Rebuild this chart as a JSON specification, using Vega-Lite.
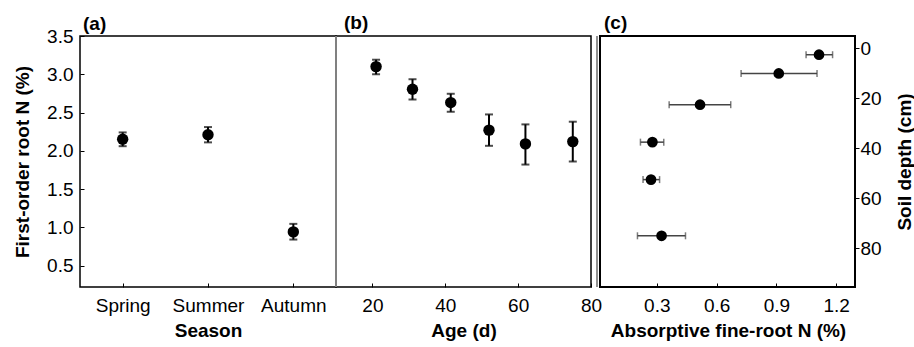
{
  "$schema": "https://vega.github.io/schema/vega-lite/v6.json",
  "padding": {"left": 12, "top": 12, "right": 5, "bottom": 5},
  "background": "white",
  "config": {
    "view": {"stroke": "black", "strokeWidth": 1.5},
    "font": "Liberation Sans",
    "axis": {"labelFont": "Liberation Sans", "labelFontSize": 19, "labelColor": "black", "titleFont": "Liberation Sans", "titleFontSize": 19, "titleFontWeight": "bold", "titleColor": "black", "grid": false, "domain": false, "tickColor": "black", "tickWidth": 1, "labelFlush": false, "labelOverlap": false},
    "title": {"font": "Liberation Sans", "fontSize": 19, "fontWeight": "bold", "anchor": "start", "color": "black", "frame": "group"}
  },
  "spacing": 0,
  "bounds": "flush",
  "hconcat": [
    {
      "width": 256, "height": 251,
      "title": {"text": "(a)", "dx": 3, "offset": -7},
      "data": {"values": [
        {"season": "Spring", "n": 2.15, "lo": 2.06, "hi": 2.24},
        {"season": "Summer", "n": 2.21, "lo": 2.11, "hi": 2.31},
        {"season": "Autumn", "n": 0.94, "lo": 0.84, "hi": 1.045}
      ]},
      "encoding": {
        "x": {"field": "season", "type": "ordinal", "sort": ["Spring", "Summer", "Autumn"], "scale": {"type": "point", "padding": 0.5},
              "axis": {"title": "Season", "labelAngle": 0, "tickSize": -4, "labelPadding": 13, "titlePadding": 6}}
      },
      "layer": [
        {"mark": {"type": "errorbar", "ticks": {"size": 8, "thickness": 2, "color": "black"}, "thickness": 2, "color": "black"},
         "encoding": {
           "y": {"field": "lo", "type": "quantitative", "scale": {"domain": [0.22, 3.5], "nice": false, "zero": false},
                 "axis": {"title": "First-order root N (%)", "values": [0.5, 1, 1.5, 2, 2.5, 3, 3.5], "format": ".1f", "tickSize": -4, "labelPadding": 11, "titlePadding": 14}},
           "y2": {"field": "hi"}
         }},
        {"mark": {"type": "point", "filled": true, "size": 130, "color": "black", "opacity": 1},
         "encoding": {
           "y": {"field": "n", "type": "quantitative", "scale": {"domain": [0.22, 3.5], "nice": false, "zero": false},
                 "axis": {"title": "First-order root N (%)", "values": [0.5, 1, 1.5, 2, 2.5, 3, 3.5], "format": ".1f", "tickSize": -4, "labelPadding": 11, "titlePadding": 14}}
         }}
      ]
    },
    {
      "width": 255, "height": 251,
      "title": {"text": "(b)", "dx": 8, "offset": 2.5},
      "data": {"values": [
        {"age": 21, "n": 3.10, "lo": 3.00, "hi": 3.19},
        {"age": 31, "n": 2.805, "lo": 2.67, "hi": 2.935},
        {"age": 41.5, "n": 2.63, "lo": 2.51, "hi": 2.745},
        {"age": 52, "n": 2.27, "lo": 2.065, "hi": 2.475},
        {"age": 62, "n": 2.09, "lo": 1.82, "hi": 2.345},
        {"age": 75, "n": 2.12, "lo": 1.86, "hi": 2.38}
      ]},
      "encoding": {
        "x": {"field": "age", "type": "quantitative", "scale": {"domain": [10, 80], "nice": false, "zero": false},
              "axis": {"title": "Age (d)", "values": [20, 40, 60, 80], "tickSize": -4, "labelPadding": 13, "titlePadding": 6}}
      },
      "layer": [
        {"mark": {"type": "rule", "color": "#808080", "strokeWidth": 2},
         "encoding": {"x": {"datum": 10}}},
        {"mark": {"type": "errorbar", "ticks": {"size": 8, "thickness": 2, "color": "black"}, "thickness": 2, "color": "black"},
         "encoding": {
           "y": {"field": "lo", "type": "quantitative", "scale": {"domain": [0.22, 3.5], "nice": false, "zero": false}, "axis": null},
           "y2": {"field": "hi"}
         }},
        {"mark": {"type": "point", "filled": true, "size": 130, "color": "black", "opacity": 1},
         "encoding": {
           "y": {"field": "n", "type": "quantitative", "scale": {"domain": [0.22, 3.5], "nice": false, "zero": false}, "axis": null}
         }}
      ]
    },
    {
      "width": 264, "height": 251,
      "view": {"stroke": null},
      "title": {"text": "(c)", "dx": 13, "offset": 2.5},
      "data": {"values": [
        {"depth": 2.5, "n": 1.114, "lo": 1.049, "hi": 1.182},
        {"depth": 10, "n": 0.912, "lo": 0.723, "hi": 1.104},
        {"depth": 22.5, "n": 0.517, "lo": 0.362, "hi": 0.671},
        {"depth": 37.5, "n": 0.278, "lo": 0.218, "hi": 0.335},
        {"depth": 52.5, "n": 0.271, "lo": 0.231, "hi": 0.314},
        {"depth": 75, "n": 0.324, "lo": 0.203, "hi": 0.444}
      ]},
      "layer": [
        {"mark": {"type": "rect", "fill": "transparent", "stroke": "black", "strokeWidth": 1.5},
         "encoding": {"x": {"datum": 0.015, "type": "quantitative", "scale": {"domain": [-0.0301, 1.2945], "nice": false, "zero": false},
                            "axis": {"title": "Absorptive fine-root N (%)", "values": [0.3, 0.6, 0.9, 1.2], "format": ".1f", "tickSize": -4, "labelPadding": 13, "titlePadding": 6, "titleX": 137}},
                      "x2": {"datum": 1.2945},
                      "y": {"datum": -5, "type": "quantitative", "scale": {"domain": [-5, 95.5], "nice": false, "zero": false, "reverse": true},
                            "axis": {"orient": "right", "title": "Soil depth (cm)", "values": [0, 20, 40, 60, 80], "tickSize": 4, "labelPadding": 1, "titlePadding": 14, "titleAngle": 270, "titleBaseline": "top"}},
                      "y2": {"datum": 95.5}}},
        {"mark": {"type": "rule", "color": "#909090", "strokeWidth": 1.5},
         "encoding": {"x": {"datum": 0, "type": "quantitative"}}},
        {"mark": {"type": "errorbar", "ticks": {"size": 7, "thickness": 1.5, "color": "#444444"}, "thickness": 1.5, "color": "#444444"},
         "encoding": {
           "x": {"field": "lo", "type": "quantitative", "title": "Absorptive fine-root N (%)"},
           "x2": {"field": "hi"},
           "y": {"field": "depth", "type": "quantitative", "title": "Soil depth (cm)"}
         }},
        {"mark": {"type": "point", "filled": true, "size": 115, "color": "black", "opacity": 1},
         "encoding": {
           "x": {"field": "n", "type": "quantitative", "title": "Absorptive fine-root N (%)"},
           "y": {"field": "depth", "type": "quantitative", "title": "Soil depth (cm)"}
         }}
      ]
    }
  ]
}
